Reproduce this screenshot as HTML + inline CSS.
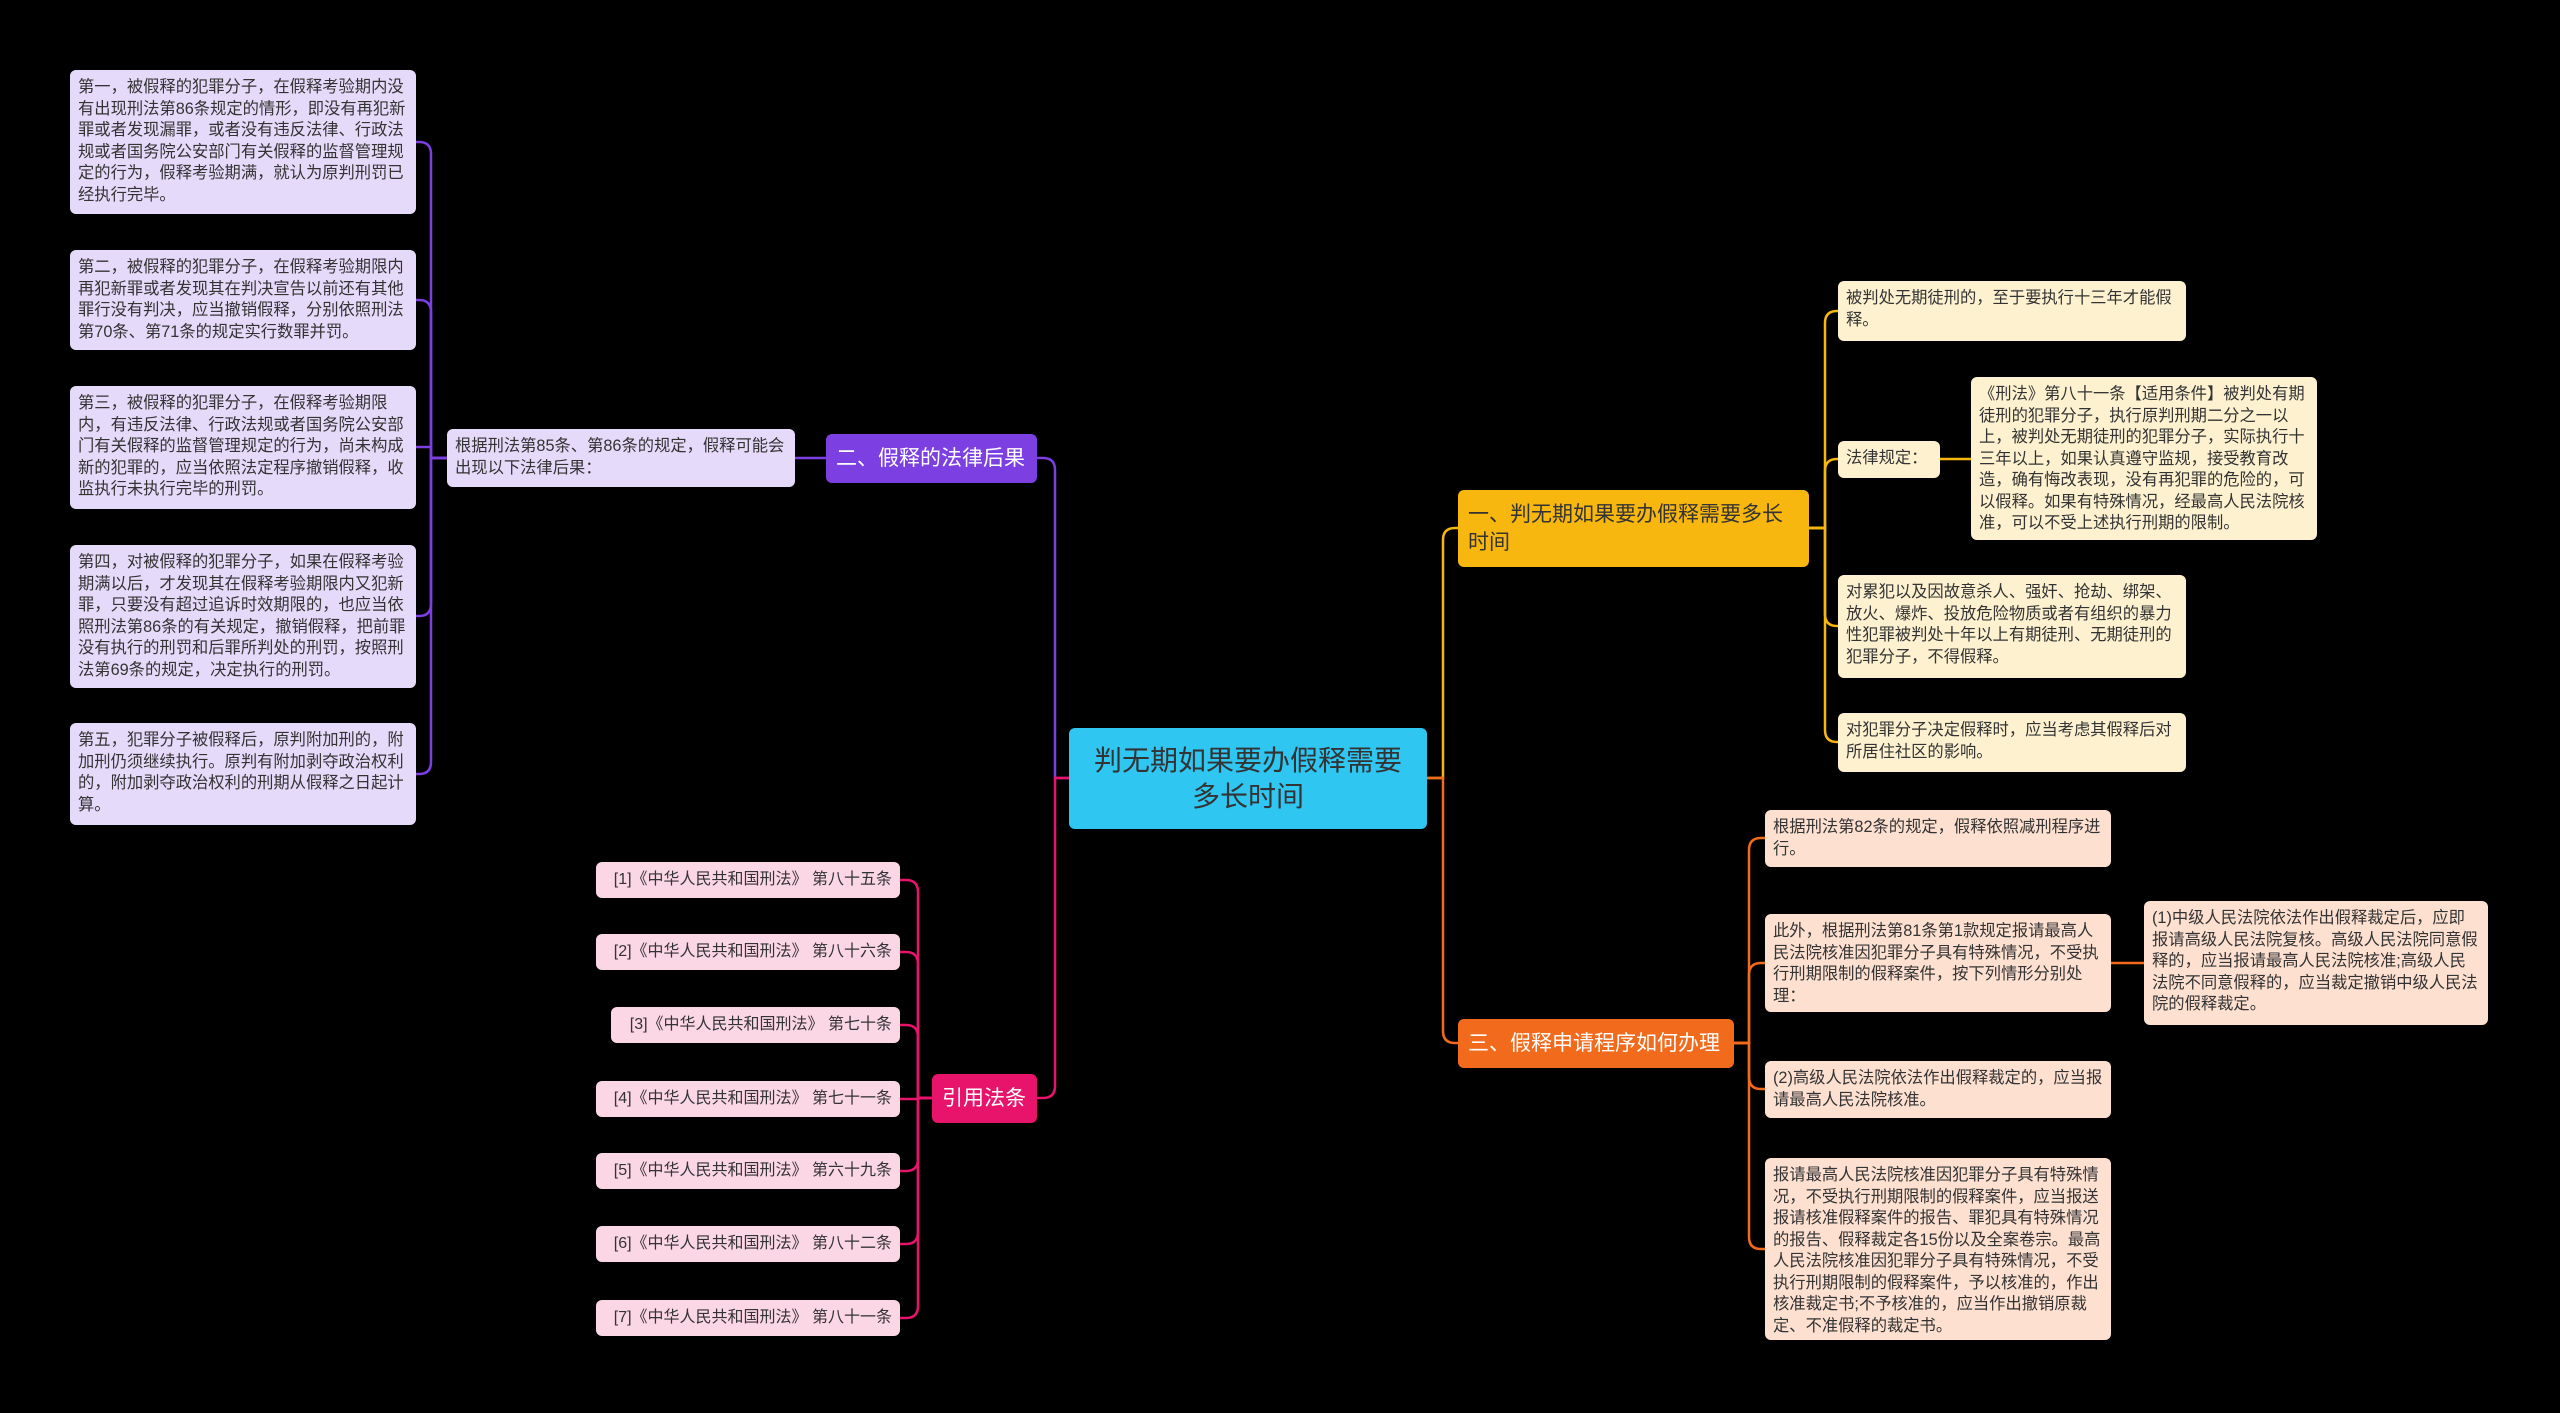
<!DOCTYPE html>
<html><head><meta charset="utf-8">
<style>
html,body{margin:0;padding:0;background:#000;}
body{width:2560px;height:1413px;position:relative;overflow:hidden;font-family:"Liberation Sans","Noto Sans CJK SC",sans-serif;}
.n{position:absolute;box-sizing:border-box;border-radius:6px;color:#333;font-size:16.3px;line-height:21.5px;padding:7px 7px 7px 8px;word-break:break-all;}
.p{background:#e6dafa;}
.y{background:#fdf1cf;}
.o{background:#fde0d0;}
.k{background:#fbd6e4;line-height:36px;padding:0 8px;white-space:nowrap;text-align:right;font-size:16px;}
.b{color:#fff;font-size:21px;line-height:28px;display:flex;align-items:center;padding:0 10px;white-space:nowrap;}
svg{position:absolute;left:0;top:0;}
</style></head><body>
<svg id="s" width="2560" height="1413"></svg>

<div class="n p" style="left:70px;top:70px;width:346px;height:144px">第一，被假释的犯罪分子，在假释考验期内没有出现刑法第86条规定的情形，即没有再犯新罪或者发现漏罪，或者没有违反法律、行政法规或者国务院公安部门有关假释的监督管理规定的行为，假释考验期满，就认为原判刑罚已经执行完毕。</div>
<div class="n p" style="left:70px;top:250px;width:346px;height:100px">第二，被假释的犯罪分子，在假释考验期限内再犯新罪或者发现其在判决宣告以前还有其他罪行没有判决，应当撤销假释，分别依照刑法第70条、第71条的规定实行数罪并罚。</div>
<div class="n p" style="left:70px;top:386px;width:346px;height:123px">第三，被假释的犯罪分子，在假释考验期限内，有违反法律、行政法规或者国务院公安部门有关假释的监督管理规定的行为，尚未构成新的犯罪的，应当依照法定程序撤销假释，收监执行未执行完毕的刑罚。</div>
<div class="n p" style="left:70px;top:545px;width:346px;height:143px">第四，对被假释的犯罪分子，如果在假释考验期满以后，才发现其在假释考验期限内又犯新罪，只要没有超过追诉时效期限的，也应当依照刑法第86条的有关规定，撤销假释，把前罪没有执行的刑罚和后罪所判处的刑罚，按照刑法第69条的规定，决定执行的刑罚。</div>
<div class="n p" style="left:70px;top:723px;width:346px;height:102px">第五，犯罪分子被假释后，原判附加刑的，附加刑仍须继续执行。原判有附加剥夺政治权利的，附加剥夺政治权利的刑期从假释之日起计算。</div>

<div class="n p" style="left:447px;top:429px;width:348px;height:58px">根据刑法第85条、第86条的规定，假释可能会出现以下法律后果：</div>
<div class="n b" style="left:826px;top:434px;width:211px;height:49px;background:#7c3fe2">二、假释的法律后果</div>

<div class="n" style="left:1069px;top:728px;width:358px;height:101px;background:#2fc6f2;color:#333;font-size:28px;line-height:36px;text-align:center;display:flex;align-items:center;justify-content:center;padding:0 16px">判无期如果要办假释需要多长时间</div>

<div class="n b" style="left:932px;top:1074px;width:105px;height:49px;background:#e8146c">引用法条</div>
<div class="n k" style="left:596px;top:862px;width:304px;height:36px">[1]《中华人民共和国刑法》 第八十五条</div>
<div class="n k" style="left:596px;top:934px;width:304px;height:36px">[2]《中华人民共和国刑法》 第八十六条</div>
<div class="n k" style="left:611px;top:1007px;width:289px;height:36px">[3]《中华人民共和国刑法》 第七十条</div>
<div class="n k" style="left:596px;top:1081px;width:304px;height:36px">[4]《中华人民共和国刑法》 第七十一条</div>
<div class="n k" style="left:596px;top:1153px;width:304px;height:36px">[5]《中华人民共和国刑法》 第六十九条</div>
<div class="n k" style="left:596px;top:1226px;width:304px;height:36px">[6]《中华人民共和国刑法》 第八十二条</div>
<div class="n k" style="left:596px;top:1300px;width:304px;height:36px">[7]《中华人民共和国刑法》 第八十一条</div>

<div class="n b" style="left:1458px;top:490px;width:351px;height:77px;background:#f7b70f;color:#333;line-height:28px;white-space:normal">一、判无期如果要办假释需要多长时间</div>
<div class="n y" style="left:1838px;top:281px;width:348px;height:60px">被判处无期徒刑的，至于要执行十三年才能假释。</div>
<div class="n y" style="left:1838px;top:441px;width:102px;height:37px">法律规定：</div>
<div class="n y" style="left:1971px;top:377px;width:346px;height:163px">《刑法》第八十一条【适用条件】被判处有期徒刑的犯罪分子，执行原判刑期二分之一以上，被判处无期徒刑的犯罪分子，实际执行十三年以上，如果认真遵守监规，接受教育改造，确有悔改表现，没有再犯罪的危险的，可以假释。如果有特殊情况，经最高人民法院核准，可以不受上述执行刑期的限制。</div>
<div class="n y" style="left:1838px;top:575px;width:348px;height:103px">对累犯以及因故意杀人、强奸、抢劫、绑架、放火、爆炸、投放危险物质或者有组织的暴力性犯罪被判处十年以上有期徒刑、无期徒刑的犯罪分子，不得假释。</div>
<div class="n y" style="left:1838px;top:713px;width:348px;height:59px">对犯罪分子决定假释时，应当考虑其假释后对所居住社区的影响。</div>

<div class="n b" style="left:1458px;top:1019px;width:276px;height:49px;background:#f26a1c">三、假释申请程序如何办理</div>
<div class="n o" style="left:1765px;top:810px;width:346px;height:57px">根据刑法第82条的规定，假释依照减刑程序进行。</div>
<div class="n o" style="left:1765px;top:914px;width:346px;height:98px">此外，根据刑法第81条第1款规定报请最高人民法院核准因犯罪分子具有特殊情况，不受执行刑期限制的假释案件，按下列情形分别处理：</div>
<div class="n o" style="left:2144px;top:901px;width:344px;height:124px">(1)中级人民法院依法作出假释裁定后，应即报请高级人民法院复核。高级人民法院同意假释的，应当报请最高人民法院核准;高级人民法院不同意假释的，应当裁定撤销中级人民法院的假释裁定。</div>
<div class="n o" style="left:1765px;top:1061px;width:346px;height:57px">(2)高级人民法院依法作出假释裁定的，应当报请最高人民法院核准。</div>
<div class="n o" style="left:1765px;top:1158px;width:346px;height:182px">报请最高人民法院核准因犯罪分子具有特殊情况，不受执行刑期限制的假释案件，应当报送报请核准假释案件的报告、罪犯具有特殊情况的报告、假释裁定各15份以及全案卷宗。最高人民法院核准因犯罪分子具有特殊情况，不受执行刑期限制的假释案件，予以核准的，作出核准裁定书;不予核准的，应当作出撤销原裁定、不准假释的裁定书。</div>

<script>
var s=document.getElementById('s');
function link(px,py,sx,cx,cy,col){
  var r=12,dy=cy-py,sg=dy>0?1:-1,dir=cx>sx?1:-1;
  var p;
  if(Math.abs(dy)<r*2){p='M'+px+','+py+' L'+sx+','+py+' L'+sx+','+cy+' L'+cx+','+cy;}
  else p='M'+px+','+py+' L'+sx+','+py+' L'+sx+','+(cy-sg*r)+' Q'+sx+','+cy+' '+(sx+dir*r)+','+cy+' L'+cx+','+cy;
  s.innerHTML+='<path d="'+p+'" fill="none" stroke="'+col+'" stroke-width="2.5"/>';
}
var P='#7c3fe2';
[142,300,447,616,774].forEach(function(y){link(447,458,431,416,y,P);});
link(826,458,810,795,458,P);
link(1069,778,1055,1037,458,P);
link(1069,778,1055,1037,1098,'#e8146c');
[880,952,1025,1099,1171,1244,1318].forEach(function(y){link(932,1098,918,900,y,'#e8146c');});
link(1427,778,1443,1458,528,'#f7b70f');
link(1427,778,1443,1458,1043,'#f26a1c');
var Y='#f7b70f';
[311,459,626,742].forEach(function(y){link(1809,528,1825,1838,y,Y);});
link(1940,459,1955,1971,459,Y);
var O='#f26a1c';
[838,963,1089,1249].forEach(function(y){link(1734,1043,1749,1765,y,O);});
link(2111,963,2128,2144,963,O);
</script>
</body></html>
